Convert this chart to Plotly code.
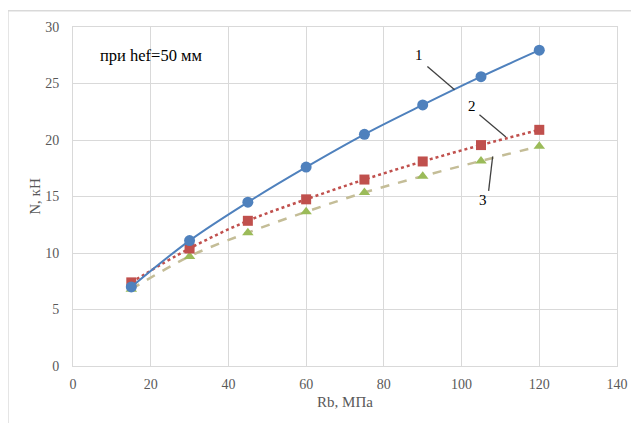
import plotly.graph_objects as go

rb = [15, 30, 45, 60, 75, 90, 105, 120]
n1 = [7.0, 11.1, 14.5, 17.6, 20.5, 23.1, 25.6, 27.95]
n2 = [7.4, 10.4, 12.85, 14.75, 16.5, 18.1, 19.55, 20.9]
n3 = [6.8, 9.7, 11.8, 13.65, 15.35, 16.8, 18.15, 19.45]

x_ticks = [0, 20, 40, 60, 80, 100, 120, 140]
y_ticks = [0, 5, 10, 15, 20, 25, 30]

FONT = "'Liberation Serif', 'Times New Roman', serif"
GRID = "#d9d9d9"

fig = go.Figure()
fig.add_trace(go.Scatter(
    x=rb, y=n3, mode="lines+markers", line_shape="spline",
    line=dict(color="#c4bd97", width=2.5, dash="dash"),
    marker=dict(symbol="triangle-up", size=10, color="#9bbb59"),
    name="3"))
fig.add_trace(go.Scatter(
    x=rb, y=n2, mode="lines+markers", line_shape="spline",
    line=dict(color="#c0504d", width=2.5, dash="dot"),
    marker=dict(symbol="square", size=10, color="#c0504d"),
    name="2"))
fig.add_trace(go.Scatter(
    x=rb, y=n1, mode="lines+markers", line_shape="spline",
    line=dict(color="#4f81bd", width=2),
    marker=dict(symbol="circle", size=11, color="#4f81bd"),
    name="1"))

labels = [("1", 89.1, 27.5), ("2", 102.8, 22.97), ("3", 105.4, 14.7)]
for t, x, y in labels:
    fig.add_annotation(x=x, y=y, text=t, showarrow=False,
                       font=dict(family=FONT, size=15, color="#000000"))
leaders = [(91.2, 26.5, 98.2, 24.45), (104.6, 22.23, 111.4, 20.26), (106.96, 15.5, 108.0, 18.54)]
for x0, y0, x1, y1 in leaders:
    fig.add_shape(type="line", x0=x0, y0=y0, x1=x1, y1=y1,
                  line=dict(color="#404040", width=1.3))

fig.add_annotation(x=20, y=27.5, text="при hef=50 мм", showarrow=False,
                   font=dict(family=FONT, size=16.5, color="#000000"))

fig.add_shape(type="line", xref="paper", yref="paper", x0=-0.1196, x1=1.2, y0=1.048, y1=1.048,
              line=dict(color=GRID, width=1.5))
fig.add_shape(type="line", xref="paper", yref="paper", x0=-0.1196, x1=-0.1196, y0=1.048, y1=-0.2,
              line=dict(color=GRID, width=1.5))

fig.update_layout(
    width=631, height=415,
    margin=dict(l=65, r=22, t=19, b=57),
    paper_bgcolor="white", plot_bgcolor="white",
    showlegend=False,
    font=dict(family=FONT, size=14, color="#595959"),
)
fig.update_xaxes(range=[0, 140], tickvals=x_ticks, showgrid=True, gridcolor=GRID, gridwidth=1.2,
                 showline=True, linecolor=GRID, mirror=True, zeroline=False, automargin=False,
                 ticks="", ticklabelstandoff=5,
                 title=dict(text="Rb, МПа", font=dict(family=FONT, size=15, color="#595959"), standoff=5))
fig.update_yaxes(range=[0, 30], tickvals=y_ticks, showgrid=True, gridcolor=GRID, gridwidth=1.2,
                 showline=True, linecolor=GRID, mirror=True, zeroline=False, automargin=False,
                 ticks="", ticklabelstandoff=10,
                 title=dict(text="N, кН", font=dict(family=FONT, size=15, color="#595959"), standoff=0))

fig.write_html("out.html")
